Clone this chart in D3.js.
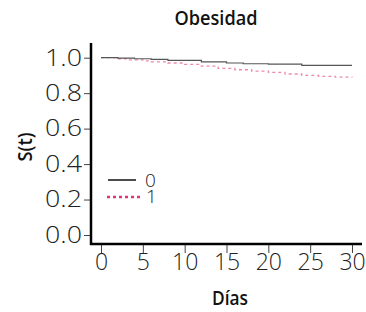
<!DOCTYPE html>
<html>
<head>
<meta charset="utf-8">
<script src="https://cdnjs.cloudflare.com/ajax/libs/d3/7.8.5/d3.min.js"></script>
<style>
  body { margin: 0; background: #fff; }
  text { font-family: "Open Sans", sans-serif; }
</style>
</head>
<body>
<script>
// survival curves, step functions
var dias0 = [0, 2, 4, 6, 8, 12, 15, 17, 20, 24, 30];
var surv0 = [1, 0.998, 0.994, 0.991, 0.985, 0.976, 0.970, 0.966, 0.964, 0.957, 0.957];

var dias1 = [0, 2, 3, 5, 6, 8, 10, 12, 14, 16, 18, 20, 22, 24, 26, 28, 30];
var surv1 = [1, 0.994, 0.988, 0.982, 0.977, 0.970, 0.962, 0.952, 0.940, 0.932, 0.924, 0.917, 0.908, 0.900, 0.895, 0.890, 0.888];

var xTicks = [0, 5, 10, 15, 20, 25, 30];
var yTicks = [0, 0.2, 0.4, 0.6, 0.8, 1.0];
var grupos = ["0", "1"];

var width = 366, height = 312;

var x = d3.scaleLinear().domain([0, 30]).range([101, 352]);
var y = d3.scaleLinear().domain([0, 1]).range([235, 57.7]);

var svg = d3.select("body").append("svg")
    .attr("width", width)
    .attr("height", height);

// y axis
var yAxis = svg.append("g")
    .attr("transform", "translate(90,0)")
    .call(d3.axisLeft(y).tickValues(yTicks).tickSize(6).tickPadding(2)
      .tickFormat(d3.format(".1f")));
yAxis.select(".domain").remove();
yAxis.selectAll(".tick line").attr("stroke", "#444");
yAxis.selectAll("text")
    .attr("fill", "#222")
    .attr("textLength", 37)
    .attr("lengthAdjust", "spacingAndGlyphs")
    .style("font-size", "23px")
    .style("font-weight", 300);

// x axis
var xAxis = svg.append("g")
    .attr("transform", "translate(0,245)")
    .call(d3.axisBottom(x).tickValues(xTicks).tickSize(8).tickPadding(1));
xAxis.select(".domain").remove();
xAxis.selectAll(".tick line").attr("stroke", "#444");
xAxis.selectAll("text")
    .attr("fill", "#222")
    .style("font-size", "23px")
    .style("font-weight", 300);

// axis lines
svg.append("line")
    .attr("x1", 91).attr("x2", 91)
    .attr("y1", 43).attr("y2", 245)
    .attr("stroke", "#000").attr("stroke-width", 2.5);
svg.append("line")
    .attr("x1", 90).attr("x2", 362)
    .attr("y1", 244).attr("y2", 244)
    .attr("stroke", "#000").attr("stroke-width", 2.5);

var line = d3.line()
    .x(function(d) { return x(d[0]); })
    .y(function(d) { return y(d[1]); })
    .curve(d3.curveStepAfter);

svg.append("path")
    .datum(d3.zip(dias1, surv1))
    .attr("d", line)
    .attr("fill", "none")
    .attr("stroke", "#ef8aa6")
    .attr("stroke-width", 1.3)
    .attr("stroke-dasharray", "3,3");

svg.append("path")
    .datum(d3.zip(dias0, surv0))
    .attr("d", line)
    .attr("fill", "none")
    .attr("stroke", "#555")
    .attr("stroke-width", 1.2);

// legend
var leg = svg.append("g");
leg.append("line")
    .attr("x1", 108).attr("x2", 136)
    .attr("y1", 180).attr("y2", 180)
    .attr("stroke", "#111").attr("stroke-width", 1.5);
leg.append("line")
    .attr("x1", 107).attr("x2", 140)
    .attr("y1", 197).attr("y2", 197)
    .attr("stroke", "#e6317a").attr("stroke-width", 2.5)
    .attr("stroke-dasharray", "3,3");
leg.selectAll("text")
    .data(grupos)
    .enter().append("text")
    .attr("x", function(d, i) { return i == 0 ? 145 : 146; })
    .attr("y", function(d, i) { return i == 0 ? 187 : 203; })
    .style("font-size", "19px")
    .style("font-weight", 300)
    .attr("fill", "#222")
    .text(function(d) { return d; });

// titles
svg.append("text")
    .attr("x", 216).attr("y", 25)
    .attr("text-anchor", "middle")
    .attr("textLength", 83)
    .attr("lengthAdjust", "spacingAndGlyphs")
    .style("font-size", "19px")
    .style("font-weight", 600)
    .attr("fill", "#111")
    .text("Obesidad");

svg.append("text")
    .attr("x", 230).attr("y", 305)
    .attr("text-anchor", "middle")
    .attr("textLength", 36)
    .attr("lengthAdjust", "spacingAndGlyphs")
    .style("font-size", "19px")
    .style("font-weight", 600)
    .attr("fill", "#111")
    .text("Días");

svg.append("text")
    .attr("transform", "translate(32,147) rotate(-90)")
    .attr("text-anchor", "middle")
    .attr("textLength", 29)
    .attr("lengthAdjust", "spacingAndGlyphs")
    .style("font-size", "19px")
    .style("font-weight", 600)
    .attr("fill", "#111")
    .text("S(t)");
</script>
</body>
</html>
